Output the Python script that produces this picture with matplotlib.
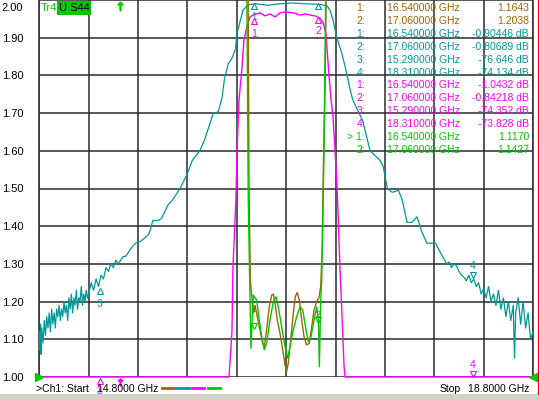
#%% VNA screen: SWR (S33/S44) and transmission traces of a band-pass filter
from matplotlib import pyplot as plt
from matplotlib.lines import Line2D
from matplotlib.patches import Rectangle

plt.rcParams['font.family'] = ['Liberation Sans', 'DejaVu Sans']

#%% data (display units of the 1.00 .. 2.00 screen scale, freq in GHz)
brown = '#A06400'
teal = '#009999'
magenta = '#FF00FF'
green = '#00C800'
gridc = '#2b2b2b'

f_ticks = [14.8, 15.2, 15.6, 16.0, 16.4, 16.8, 17.2, 17.6, 18.0, 18.4, 18.8]
y_ticks = [1.0, 1.1, 1.2, 1.3, 1.4, 1.5, 1.6, 1.7, 1.8, 1.9, 2.0]
y_labels = ['1.00', '1.10', '1.20', '1.30', '1.40', '1.50', '1.60', '1.70', '1.80', '1.90', '']

# wide trace (teal)
teal_f = [14.80, 14.805, 14.81, 14.815, 14.82, 14.83, 14.84, 14.85, 14.86, 14.87, 14.88, 14.89,
          14.90, 14.91, 14.92, 14.93, 14.94, 14.95, 14.96, 14.97, 14.98, 14.99, 15.00, 15.01,
          15.02, 15.03, 15.04, 15.05, 15.06, 15.07, 15.08, 15.09, 15.10, 15.11, 15.12, 15.13,
          15.14, 15.15, 15.16, 15.17, 15.18, 15.19, 15.20, 15.22, 15.24, 15.26, 15.28, 15.30,
          15.32, 15.34, 15.36, 15.38, 15.40, 15.42, 15.44, 15.46, 15.48, 15.50, 15.54, 15.58,
          15.62, 15.66, 15.69, 15.72, 15.76, 15.79, 15.84, 15.88, 15.92, 15.94, 16.00, 16.04,
          16.10, 16.14, 16.18, 16.21, 16.23, 16.25, 16.28, 16.30, 16.33, 16.36, 16.39, 16.40,
          16.43, 16.45, 16.49, 16.55, 16.65, 16.75, 16.85, 16.95, 17.05, 17.13, 17.155, 17.18,
          17.21, 17.25, 17.28, 17.32, 17.34, 17.42, 17.48, 17.56, 17.585, 17.62, 17.66, 17.71,
          17.74, 17.78, 17.82, 17.86, 17.90, 17.94, 18.01, 18.05, 18.10, 18.12, 18.14, 18.16,
          18.18, 18.20, 18.22, 18.24, 18.26, 18.28, 18.30, 18.32, 18.34, 18.36, 18.38, 18.40,
          18.42, 18.44, 18.46, 18.48, 18.50, 18.52, 18.54, 18.56, 18.58, 18.60, 18.62, 18.64,
          18.65, 18.66, 18.68, 18.70, 18.72, 18.74, 18.76, 18.78, 18.80]
teal_v = [1.12, 1.07, 1.14, 1.06, 1.13, 1.09, 1.15, 1.11, 1.16, 1.13, 1.17, 1.12,
          1.18, 1.14, 1.17, 1.13, 1.18, 1.16, 1.19, 1.15, 1.18, 1.16, 1.20, 1.17,
          1.19, 1.15, 1.21, 1.18, 1.22, 1.17, 1.21, 1.19, 1.23, 1.18, 1.21, 1.20,
          1.24, 1.19, 1.22, 1.20, 1.23, 1.21, 1.22, 1.25, 1.23, 1.26, 1.24, 1.27,
          1.26, 1.29, 1.28, 1.30, 1.29, 1.31, 1.30, 1.31, 1.32, 1.32, 1.34, 1.355,
          1.36, 1.37, 1.38, 1.415, 1.415, 1.42, 1.455, 1.47, 1.49, 1.50, 1.54, 1.575,
          1.60, 1.63, 1.67, 1.70, 1.70, 1.705, 1.74, 1.79, 1.83, 1.845, 1.87, 1.91,
          1.947, 1.973, 1.987, 1.99, 1.986, 1.99, 1.992, 1.99, 1.989, 1.985, 1.973, 1.947,
          1.90, 1.86, 1.82, 1.76, 1.735, 1.68, 1.60, 1.575, 1.56, 1.50, 1.49, 1.495,
          1.47, 1.41, 1.41, 1.425, 1.385, 1.355, 1.355, 1.33, 1.30, 1.305, 1.29, 1.30,
          1.295, 1.28, 1.27, 1.265, 1.255, 1.27, 1.25, 1.26, 1.24, 1.25, 1.22, 1.235,
          1.21, 1.24, 1.20, 1.22, 1.19, 1.23, 1.18, 1.21, 1.16, 1.20, 1.15, 1.19,
          1.05, 1.17, 1.21, 1.14, 1.20, 1.13, 1.17, 1.10, 1.12]

# narrow trace (magenta), clipped at the bottom of the screen
mag_f = [14.80, 16.337, 16.361, 16.369, 16.393, 16.402, 16.418, 16.442, 16.458, 16.483, 16.507,
         16.531, 16.588, 16.629, 16.669, 16.710, 16.750, 16.791, 16.831, 16.872, 16.912, 16.953,
         16.993, 17.034, 17.074, 17.099, 17.123, 17.147, 17.164, 17.180, 17.196, 17.212, 17.224,
         17.236, 17.253, 17.269, 17.277, 18.80]
mag_v = [1.00, 1.00, 1.12, 1.29, 1.47, 1.60, 1.735, 1.82, 1.894, 1.93, 1.955,
         1.96, 1.966, 1.958, 1.963, 1.955, 1.966, 1.968, 1.967, 1.965, 1.96, 1.963,
         1.96, 1.958, 1.952, 1.94, 1.91, 1.80, 1.735, 1.69, 1.60, 1.51, 1.40,
         1.29, 1.16, 1.03, 1.00, 1.00]

# SWR trace (brown)
brn_f = [16.491, 16.499, 16.511, 16.521, 16.534, 16.548, 16.566, 16.588, 16.610, 16.623, 16.642,
         16.663, 16.683, 16.696, 16.710, 16.728, 16.750, 16.772, 16.791, 16.804, 16.817, 16.831,
         16.845, 16.858, 16.874, 16.890, 16.907, 16.926, 16.945, 16.966, 16.988, 17.007, 17.026,
         17.048, 17.066, 17.080, 17.093, 17.101, 17.117, 17.127]
brn_v = [2.10, 1.50, 1.25, 1.217, 1.17, 1.19, 1.16, 1.125, 1.09, 1.08, 1.125,
         1.186, 1.217, 1.22, 1.196, 1.151, 1.116, 1.072, 1.032, 1.014, 1.037, 1.08,
         1.125, 1.17, 1.213, 1.224, 1.204, 1.151, 1.107, 1.085, 1.09, 1.133, 1.178,
         1.20, 1.21, 1.24, 1.35, 1.55, 1.80, 2.10]

# SWR trace (green)
grn_f = [16.480, 16.493, 16.507, 16.515, 16.534, 16.561, 16.582, 16.602, 16.623, 16.642, 16.669,
         16.696, 16.718, 16.736, 16.764, 16.791, 16.813, 16.831, 16.858, 16.885, 16.912, 16.934,
         16.961, 16.979, 16.999, 17.026, 17.048, 17.061, 17.069, 17.080, 17.088, 17.107, 17.123]
grn_v = [2.10, 1.47, 1.21, 1.076, 1.217, 1.204, 1.151, 1.107, 1.072, 1.09, 1.151,
         1.20, 1.213, 1.186, 1.133, 1.08, 1.05, 1.08, 1.125, 1.16, 1.186, 1.178,
         1.125, 1.094, 1.103, 1.151, 1.186, 1.151, 1.027, 1.204, 1.257, 1.60, 2.10]

# marker table: (colour, index, frequency, value)
tbl_color = [brown, brown, teal, teal, teal, teal, magenta, magenta, magenta, magenta, green, green]
tbl_idx = ['1:', '2:', '1:', '2:', '3:', '4:', '1:', '2:', '3:', '4:', '> 1:', '2:']
tbl_freq = ['16.540000 GHz', '17.060000 GHz', '16.540000 GHz', '17.060000 GHz', '15.290000 GHz',
            '18.310000 GHz', '16.540000 GHz', '17.060000 GHz', '15.290000 GHz', '18.310000 GHz',
            '16.540000 GHz', '17.060000 GHz']
tbl_val = ['1.1643', '1.2038', '-0.90446 dB', '-0.80689 dB', '-76.646 dB', '-74.134 dB',
           '-1.0432 dB', '-0.84218 dB', '-74.352 dB', '-73.828 dB', '1.1170', '1.1427']

#%% figure
W, H = 540, 400
fig = plt.figure(figsize=(W/100, H/100), dpi=100, facecolor='white')
ax = fig.add_axes([39.3/W, 1 - 377/H, (533 - 39.3)/W, 377/H])
ax.set_xlim(14.8, 18.8)
ax.set_ylim(1.0, 2.0)
ax.set_xticks(f_ticks)
ax.set_xticklabels([])
ax.set_yticks(y_ticks)
ax.set_yticklabels(y_labels, fontsize=8)
ax.tick_params(length=0, pad=11.5)
ax.grid(True, color=gridc, lw=1.1)
ax.set_axisbelow(True)
for s in ['top', 'bottom']:
    ax.spines[s].set_visible(False)
for s in ['left', 'right']:
    ax.spines[s].set_color(gridc)
    ax.spines[s].set_linewidth(1.1)

ax.plot(mag_f, mag_v, color=magenta, lw=1.0, zorder=3, clip_on=False)
ax.plot(teal_f, teal_v, color=teal, lw=0.9, zorder=4)
ax.plot(brn_f, brn_v, color=brown, lw=1.0, zorder=5)
ax.plot(grn_f, grn_v, color=green, lw=1.0, zorder=6)

# markers on the traces
mk = dict(mfc='none', ms=5, mew=0.8, ls='none', clip_on=False, zorder=7)
ax.plot([16.54, 17.06], [1.985, 1.985], marker='^', color=teal, **mk)
ax.text(16.54, 1.956, '1', color=teal, fontsize=7, ha='center', va='center')
ax.plot([16.54, 17.06], [1.944, 1.946], marker='^', color=magenta, **mk)
ax.text(16.54, 1.91, '1', color=magenta, fontsize=7.5, ha='center', va='center')
ax.text(17.06, 1.918, '2', color=magenta, fontsize=7.5, ha='center', va='center')
ax.plot([15.29], [1.228], marker='^', color=teal, **mk)
ax.text(15.29, 1.194, '3', color=teal, fontsize=7.5, ha='center', va='center')
ax.plot([18.31], [1.27], marker='v', color=teal, **mk)
ax.text(18.31, 1.294, '4', color=teal, fontsize=7.5, ha='center', va='center')
ax.plot([18.31], [1.008], marker='v', color=magenta, **mk)
ax.text(18.31, 1.032, '4', color=magenta, fontsize=7.5, ha='center', va='center')
ax.plot([15.29], [0.99], marker='^', color=magenta, **mk)
ax.text(15.29, 0.962, '3', color=magenta, fontsize=7, ha='center', va='center')
ax.plot([16.54, 17.06], [1.135, 1.15], marker='v', color=green, **mk)
ax.text(16.54, 1.18, '1', color=brown, fontsize=6.5, ha='center', va='center', zorder=7)
ax.text(17.06, 1.165, '2', color=brown, fontsize=6.5, ha='center', va='center', zorder=7)
# stimulus arrows (top green, bottom magenta)
ax.plot([15.454], [1.985], marker='$\\uparrow$', color=green, ms=6, ls='none', clip_on=False)
ax.plot([15.454], [0.988], marker='$\\uparrow$', color=magenta, ms=5, ls='none', clip_on=False)
ax.plot([14.8], [1.0], marker='>', color=green, ms=6, ls='none', clip_on=False, zorder=8)
ax.plot([18.8], [1.0], marker='<', color=green, ms=6, ls='none', clip_on=False, zorder=8)

# top value of the scale sits a bit lower on the screen
fig.text(23/W, 1 - 8/H, '2.00', fontsize=8, ha='right', va='center')

# trace label
fig.text(41/W, 1 - 8/H, 'Tr4', color=green, fontsize=8, ha='left', va='center')
fig.text(59/W, 1 - 8/H, 'U S44', color='black', fontsize=8, ha='left', va='center',
         bbox=dict(boxstyle='square,pad=0.15', fc=green, ec='none'))

# marker table
for i in range(len(tbl_idx)):
    y = 1 - (8 + 12.9*i)/H
    fig.text(365/W, y, tbl_idx[i], color=tbl_color[i], fontsize=7.5, ha='right', va='center')
    fig.text(387/W, y, tbl_freq[i], color=tbl_color[i], fontsize=7.5, ha='left', va='center')
    fig.text(529/W, y, tbl_val[i], color=tbl_color[i], fontsize=7.5, ha='right', va='center')

# status line
fig.text(36/W, 1 - 389/H, '>Ch1: Start', fontsize=7.5, ha='left', va='center')
fig.text(97/W, 1 - 389/H, '14.8000 GHz', fontsize=7.5, ha='left', va='center')
fig.text(440/W, 1 - 389/H, 'Stop', fontsize=7.5, ha='left', va='center')
fig.text(529/W, 1 - 389/H, '18.8000 GHz', fontsize=7.5, ha='right', va='center')
for c, x0 in zip([brown, teal, magenta, green], [162, 177, 192, 208]):
    fig.add_artist(Line2D([x0/W, (x0 + 12)/W], [1 - 387.5/H, 1 - 387.5/H], color=c, lw=2))

# window frame bits
fig.add_artist(Line2D([537.5/W, 537.5/W], [1 - 394/H, 1], color='#E00000', lw=0.8))
fig.add_artist(Rectangle((0, 0), 1, 6/H, transform=fig.transFigure, fc='#D4D0C8', ec='none'))

fig.savefig('out.png', dpi=100, facecolor='white')
